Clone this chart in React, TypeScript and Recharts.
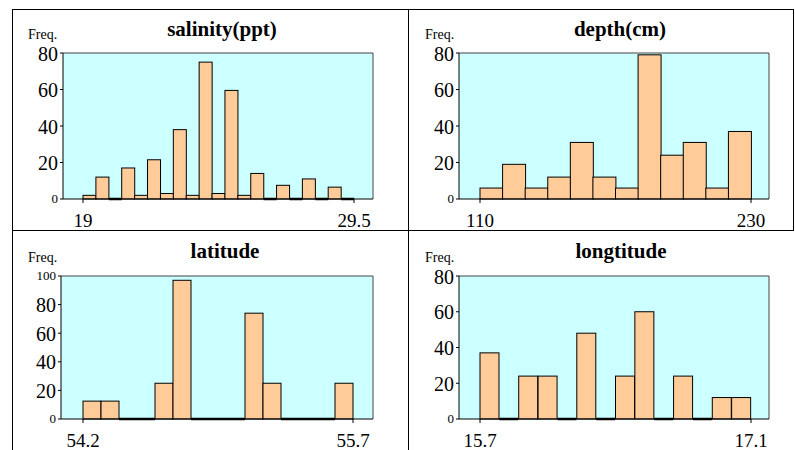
import React from 'react';
import { BarChart, Bar, XAxis, YAxis, CartesianGrid } from 'recharts';

const salinityFreq = [2, 12, 0, 17, 2, 21.5, 3, 38, 2, 75, 3, 59.5, 2, 14, 0, 7.5, 0, 11, 0, 6.5, 0];
const salinityRange = ['19', '29.5'];
const depthFreq = [6, 19, 6, 12, 31, 12, 6, 79, 24, 31, 6, 37];
const depthRange = ['110', '230'];
const latitudeFreq = [12.5, 12.5, 0, 0, 25, 97, 0, 0, 0, 74, 25, 0, 0, 0, 25];
const latitudeRange = ['54.2', '55.7'];
const longitudeFreq = [37, 0, 24, 24, 0, 48, 0, 24, 60, 0, 24, 0, 12, 12];
const longitudeRange = ['15.7', '17.1'];
const ticks80 = [0, 20, 40, 60, 80];
const ticks100 = [0, 20, 40, 60, 80, 100];

const SERIF = '"Liberation Serif", "Times New Roman", serif';

const panels = [
  {
    title: 'salinity(ppt)', freq: salinityFreq, range: salinityRange, yTicks: ticks80,
    left: 12, top: 9, width: 396, height: 221,
    margin: { top: 44, right: 35, bottom: 0, left: 11 }, pad: { left: 20, right: 19 },
    titleX: 222, titleY: 36, freqX: 28, freqY: 39,
  },
  {
    title: 'depth(cm)', freq: depthFreq, range: depthRange, yTicks: ticks80,
    left: 408, top: 9, width: 387, height: 221,
    margin: { top: 44, right: 26, bottom: 0, left: 11 }, pad: { left: 21, right: 18 },
    titleX: 620, titleY: 36, freqX: 425, freqY: 39,
  },
  {
    title: 'latitude', freq: latitudeFreq, range: latitudeRange, yTicks: ticks100,
    left: 12, top: 230, width: 396, height: 220,
    margin: { top: 46, right: 35, bottom: 0, left: 9 }, pad: { left: 22, right: 20 },
    titleX: 225, titleY: 258, freqX: 28, freqY: 262,
  },
  {
    title: 'longtitude', freq: longitudeFreq, range: longitudeRange, yTicks: ticks80,
    left: 408, top: 230, width: 387, height: 220,
    margin: { top: 46, right: 26, bottom: 0, left: 11 }, pad: { left: 21, right: 18 },
    titleX: 621, titleY: 258, freqX: 425, freqY: 262,
  },
];

const HistBar = (props: any) => {
  const { x, y, width, height } = props;
  if (!height) {
    return <line x1={x} x2={x + width} y1={y} y2={y} stroke="#000" strokeWidth={2.5} />;
  }
  return <rect x={x} y={y} width={width} height={height} fill="#FFCC99" stroke="#000" strokeWidth={1} />;
};

const YTick = (props: any) => {
  const { x, y, payload } = props;
  const small = payload.value === 0 || payload.value === 100;
  return (
    <text x={x} y={y} dy={small ? 4 : 7.5} textAnchor="end" fontFamily={SERIF}
      fontSize={small ? 13 : 20} fill="#000">
      {payload.value}
    </text>
  );
};

// labels sit on the outer edges of the first and last bins
const XTick = (props: any) => {
  const { x, y, payload, labels, n } = props;
  const half = payload.offset || 0;
  let tx: number;
  let label: string;
  if (payload.index === 0 || payload.value === 0) {
    tx = x - half;
    label = labels[0];
  } else if (payload.value === n - 1) {
    tx = x + half;
    label = labels[1];
  } else {
    return <g />;
  }
  return (
    <g>
      <line x1={tx} x2={tx} y1={y} y2={y + 4} stroke="#000" />
      <text x={tx} y={y} dy={28} textAnchor="middle" fontFamily={SERIF} fontSize={19} fill="#000">
        {label}
      </text>
    </g>
  );
};

const Panel = ({ p }: any) => {
  const data = p.freq.map((v: number, i: number) => ({ bin: i, freq: v }));
  const n = p.freq.length;
  const yMax = p.yTicks[p.yTicks.length - 1];
  return (
    <div style={{ position: 'absolute', left: p.left, top: p.top }}>
      <BarChart width={p.width} height={p.height} data={data} margin={p.margin}
        barCategoryGap={0} barGap={0}>
        <CartesianGrid fill="#CCFFFF" stroke="#444" strokeWidth={1}
          horizontalCoordinatesGenerator={({ offset }: any) => [offset.top]}
          verticalCoordinatesGenerator={({ offset }: any) => [offset.left + offset.width]} />
        <XAxis dataKey="bin" padding={p.pad} height={31} tickSize={0} tickMargin={0} interval={0}
          tickLine={false} axisLine={{ stroke: '#000' }}
          tick={<XTick labels={p.range} n={n} />} />
        <YAxis domain={[0, yMax]} ticks={p.yTicks} width={40} tickSize={3} tickMargin={2}
          interval={0} axisLine={{ stroke: '#000' }} tickLine={{ stroke: '#000' }} tick={<YTick />} />
        <Bar dataKey="freq" shape={<HistBar />} isAnimationActive={false} />
      </BarChart>
    </div>
  );
};

export default function App() {
  return (
    <div style={{ position: 'absolute', left: 0, top: 0, width: 795, height: 450, background: '#fff' }}>
      {panels.map((p) => (
        <Panel key={p.title} p={p} />
      ))}
      <svg width={795} height={450} style={{ position: 'absolute', left: 0, top: 0, pointerEvents: 'none' }}>
        <line x1={12} x2={793} y1={9.5} y2={9.5} stroke="#000" />
        <line x1={12} x2={793} y1={230.5} y2={230.5} stroke="#000" />
        <line x1={12.5} x2={12.5} y1={9} y2={450} stroke="#000" />
        <line x1={408.5} x2={408.5} y1={9} y2={450} stroke="#000" />
        <line x1={793.5} x2={793.5} y1={9} y2={231} stroke="#000" />
        {panels.map((p) => (
          <g key={p.title}>
            <text x={p.titleX} y={p.titleY} textAnchor="middle" fontFamily={SERIF}
              fontWeight="bold" fontSize={21} fill="#000">{p.title}</text>
            <text x={p.freqX} y={p.freqY} fontFamily={SERIF} fontSize={14} fill="#000">Freq.</text>
          </g>
        ))}
      </svg>
    </div>
  );
}
